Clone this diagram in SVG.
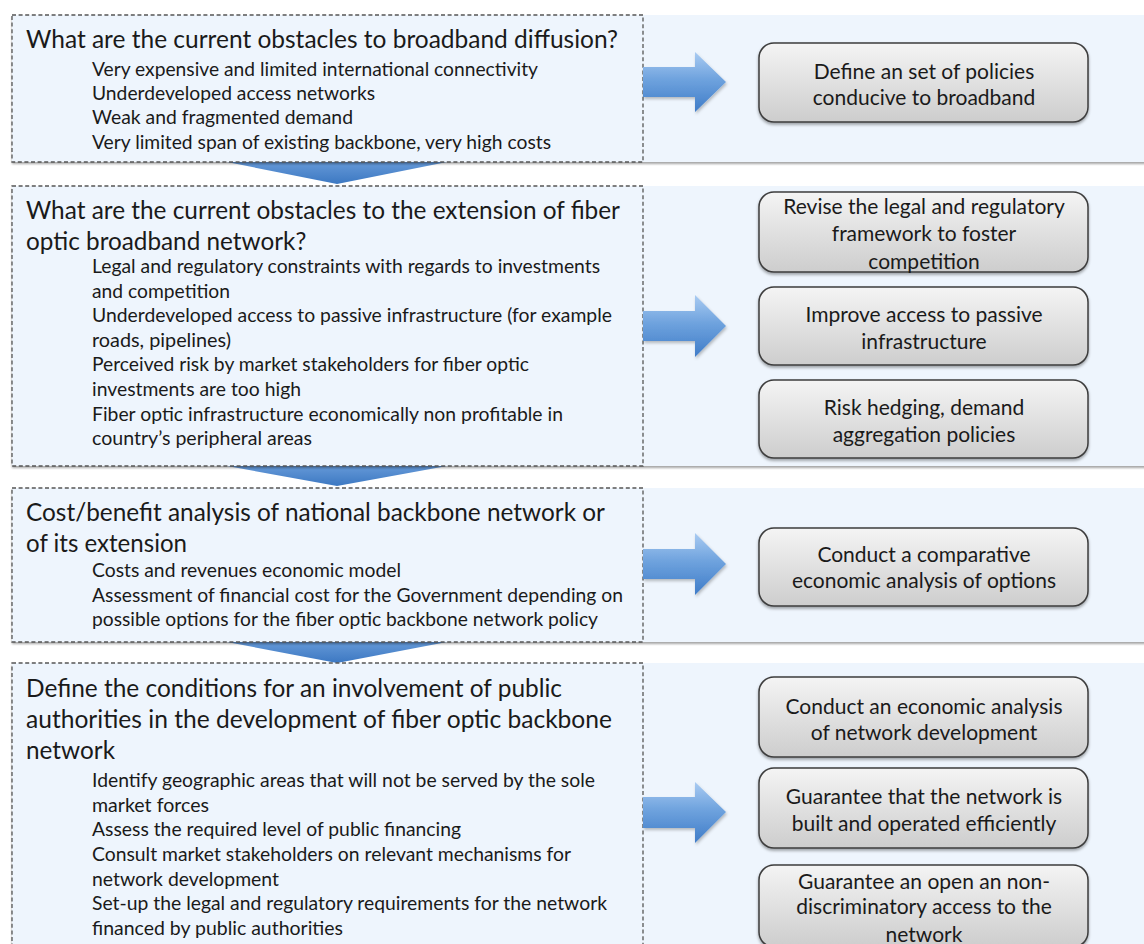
<svg xmlns="http://www.w3.org/2000/svg" width="1144" height="944" viewBox="0 0 1144 944">
<defs>
<linearGradient id="arrR" x1="0" y1="0" x2="0" y2="1">
<stop offset="0" stop-color="#a9cbf2"/>
<stop offset="0.45" stop-color="#6fa3de"/>
<stop offset="1" stop-color="#3f7cc8"/>
</linearGradient>
<linearGradient id="arrD" x1="0" y1="0" x2="0" y2="1">
<stop offset="0" stop-color="#7aaae3"/>
<stop offset="1" stop-color="#3c78c2"/>
</linearGradient>
<linearGradient id="boxG" x1="0" y1="0" x2="0" y2="1">
<stop offset="0" stop-color="#f4f4f4"/>
<stop offset="1" stop-color="#cdcdcd"/>
</linearGradient>
<filter id="bandSh" x="-5%" y="-5%" width="110%" height="115%">
<feDropShadow dx="0" dy="2" stdDeviation="1.2" flood-color="#000" flood-opacity="0.35"/>
</filter>
<filter id="boxSh" x="-5%" y="-10%" width="110%" height="130%">
<feDropShadow dx="0" dy="2" stdDeviation="1.5" flood-color="#000" flood-opacity="0.35"/>
</filter>
<filter id="arrSh" x="-10%" y="-10%" width="130%" height="130%">
<feDropShadow dx="1" dy="2" stdDeviation="1.5" flood-color="#000" flood-opacity="0.25"/>
</filter>
</defs>
<style>
.band{fill:#eef5fd;filter:url(#bandSh);}
.dash{fill:#eef5fd;stroke:#555;stroke-width:1.3;stroke-dasharray:4 2.6;}
.title{font-family:Lato,"Open Sans",sans-serif;font-size:24.3px;fill:#1a1a1a;}
.item{font-family:Lato,"Open Sans",sans-serif;font-size:19.4px;fill:#1a1a1a;}
.bx{fill:url(#boxG);stroke:#3c3c3c;stroke-width:1.5;filter:url(#boxSh);}
.bt{font-family:Lato,"Open Sans",sans-serif;font-size:21px;fill:#1a1a1a;text-anchor:middle;}
.ar{fill:url(#arrR);filter:url(#arrSh);}
.ad{fill:url(#arrD);}
</style>

<!-- connectors: down arrows between bands -->
<g id="connectors">
<path class="ad" d="M227,150 L447,150 L447,162 L337,184 L227,162 Z"/>
<path class="ad" d="M227,455 L447,455 L447,466 L337,486 L227,466 Z"/>
<path class="ad" d="M227,630 L447,630 L447,642 L337,663 L227,642 Z"/>
</g>

<!-- Band 1 -->
<g id="band1">
<rect class="band" x="12" y="15" width="1150" height="147"/>
<rect class="dash" x="12" y="15" width="631" height="147"/>
<text class="title" x="26" y="48" textLength="592" lengthAdjust="spacingAndGlyphs">What are the current obstacles to broadband diffusion?</text>
<text class="item" x="92" y="76" textLength="446" lengthAdjust="spacingAndGlyphs">Very expensive and limited international connectivity</text>
<text class="item" x="92" y="100" textLength="283" lengthAdjust="spacingAndGlyphs">Underdeveloped access networks</text>
<text class="item" x="92" y="124" textLength="261" lengthAdjust="spacingAndGlyphs">Weak and fragmented demand</text>
<text class="item" x="92" y="149" textLength="459" lengthAdjust="spacingAndGlyphs">Very limited span of existing backbone, very high costs</text>
</g>

<!-- Band 2 -->
<g id="band2">
<rect class="band" x="12" y="186" width="1150" height="280"/>
<rect class="dash" x="12" y="186" width="631" height="280"/>
<text class="title" x="26" y="219" textLength="594" lengthAdjust="spacingAndGlyphs">What are the current obstacles to the extension of fiber</text>
<text class="title" x="26" y="250">optic broadband network?</text>
<text class="item" x="92" y="273" textLength="508" lengthAdjust="spacingAndGlyphs">Legal and regulatory constraints with regards to investments</text>
<text class="item" x="92" y="297.5" textLength="138" lengthAdjust="spacingAndGlyphs">and competition</text>
<text class="item" x="92" y="322" textLength="520" lengthAdjust="spacingAndGlyphs">Underdeveloped access to passive infrastructure (for example</text>
<text class="item" x="92" y="346.5" textLength="139" lengthAdjust="spacingAndGlyphs">roads, pipelines)</text>
<text class="item" x="92" y="371" textLength="437" lengthAdjust="spacingAndGlyphs">Perceived risk by market stakeholders for fiber optic</text>
<text class="item" x="92" y="395.5" textLength="209" lengthAdjust="spacingAndGlyphs">investments are too high</text>
<text class="item" x="92" y="420.5" textLength="471" lengthAdjust="spacingAndGlyphs">Fiber optic infrastructure economically non profitable in</text>
<text class="item" x="92" y="445" textLength="220" lengthAdjust="spacingAndGlyphs">country’s peripheral areas</text>
</g>

<!-- Band 3 -->
<g id="band3">
<rect class="band" x="12" y="488" width="1150" height="154"/>
<rect class="dash" x="12" y="488" width="631" height="154"/>
<text class="title" x="26" y="521" textLength="579" lengthAdjust="spacingAndGlyphs">Cost/benefit analysis of national backbone network or</text>
<text class="title" x="26" y="552" textLength="161" lengthAdjust="spacingAndGlyphs">of its extension</text>
<text class="item" x="92" y="577" textLength="309" lengthAdjust="spacingAndGlyphs">Costs and revenues economic model</text>
<text class="item" x="92" y="601.5" textLength="531" lengthAdjust="spacingAndGlyphs">Assessment of financial cost for the Government depending on</text>
<text class="item" x="92" y="626" textLength="506" lengthAdjust="spacingAndGlyphs">possible options for the fiber optic backbone network policy</text>
</g>

<!-- Band 4 -->
<g id="band4">
<rect class="band" x="12" y="663" width="1150" height="300"/>
<rect class="dash" x="12" y="663" width="631" height="300"/>
<text class="title" x="26" y="697" textLength="536" lengthAdjust="spacingAndGlyphs">Define the conditions for an involvement of public</text>
<text class="title" x="26" y="728" textLength="586" lengthAdjust="spacingAndGlyphs">authorities in the development of fiber optic backbone</text>
<text class="title" x="26" y="759" textLength="89" lengthAdjust="spacingAndGlyphs">network</text>
<text class="item" x="92" y="787" textLength="503" lengthAdjust="spacingAndGlyphs">Identify geographic areas that will not be served by the sole</text>
<text class="item" x="92" y="811.5" textLength="117" lengthAdjust="spacingAndGlyphs">market forces</text>
<text class="item" x="92" y="836" textLength="369" lengthAdjust="spacingAndGlyphs">Assess the required level of public financing</text>
<text class="item" x="92" y="861" textLength="479" lengthAdjust="spacingAndGlyphs">Consult market stakeholders on relevant mechanisms for</text>
<text class="item" x="92" y="885.5" textLength="187" lengthAdjust="spacingAndGlyphs">network development</text>
<text class="item" x="92" y="910" textLength="515" lengthAdjust="spacingAndGlyphs">Set-up the legal and regulatory requirements for the network</text>
<text class="item" x="92" y="935" textLength="251" lengthAdjust="spacingAndGlyphs">financed by public authorities</text>
</g>

<!-- right arrows -->
<g id="arrows">
<path class="ar" d="M643,67 H695 V52 L726,82 L695,112 V97 H643 Z"/>
<path class="ar" d="M643,311 H695 V295 L726,326 L695,357 V341 H643 Z"/>
<path class="ar" d="M643,549 H695 V533 L726,564 L695,595 V579 H643 Z"/>
<path class="ar" d="M643,797 H695 V782 L726,812 L695,843 V828 H643 Z"/>
</g>

<!-- right boxes -->
<g id="box1">
<rect class="bx" x="759" y="43" width="329" height="79" rx="15"/>
<text class="bt" x="924" y="79">Define an set of policies</text>
<text class="bt" x="924" y="105">conducive to broadband</text>
</g>
<g id="box2a">
<rect class="bx" x="759" y="192" width="329" height="80" rx="15"/>
<text class="bt" x="924" y="214">Revise the legal and regulatory</text>
<text class="bt" x="924" y="241">framework to foster</text>
<text class="bt" x="924" y="269">competition</text>
</g>
<g id="box2b">
<rect class="bx" x="759" y="287" width="329" height="78" rx="15"/>
<text class="bt" x="924" y="322">Improve access to passive</text>
<text class="bt" x="924" y="349">infrastructure</text>
</g>
<g id="box2c">
<rect class="bx" x="759" y="380" width="329" height="78" rx="15"/>
<text class="bt" x="924" y="415">Risk hedging, demand</text>
<text class="bt" x="924" y="442">aggregation policies</text>
</g>
<g id="box3">
<rect class="bx" x="759" y="528" width="329" height="78" rx="15"/>
<text class="bt" x="924" y="562">Conduct a comparative</text>
<text class="bt" x="924" y="588">economic analysis of options</text>
</g>
<g id="box4a">
<rect class="bx" x="759" y="677" width="329" height="80" rx="15"/>
<text class="bt" x="924" y="714">Conduct an economic analysis</text>
<text class="bt" x="924" y="740">of network development</text>
</g>
<g id="box4b">
<rect class="bx" x="759" y="768" width="329" height="80" rx="15"/>
<text class="bt" x="924" y="804">Guarantee that the network is</text>
<text class="bt" x="924" y="831">built and operated efficiently</text>
</g>
<g id="box4c">
<rect class="bx" x="759" y="865" width="329" height="82" rx="15"/>
<text class="bt" x="924" y="889">Guarantee an open an non-</text>
<text class="bt" x="924" y="914">discriminatory access to the</text>
<text class="bt" x="924" y="942">network</text>
</g>
</svg>
